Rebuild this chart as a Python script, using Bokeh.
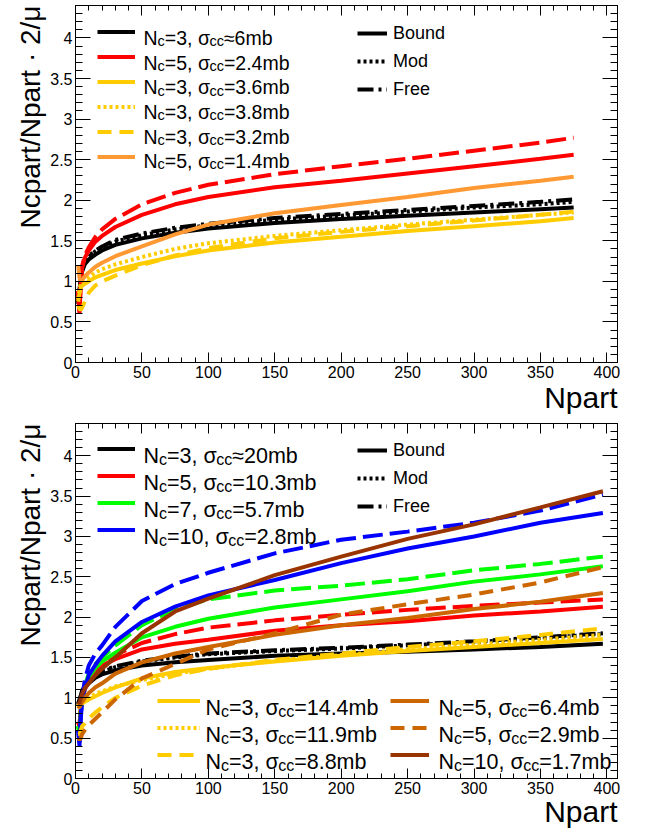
import numpy as np
from bokeh.plotting import figure
from bokeh.layouts import column
from bokeh.models import (Range1d, LinearAxis, FixedTicker, Label, Legend,
                          LegendItem, CustomJSTickFormatter, Title)
from bokeh.embed import file_html
from bokeh.resources import INLINE

FONT = "Liberation Sans"

# ---------------- data ----------------
X_MAJOR = [0, 50, 100, 150, 200, 250, 300, 350, 400]
X_MINOR = list(range(0, 409, 10))
Y_MAJOR = [0, 0.5, 1, 1.5, 2, 2.5, 3, 3.5, 4]
Y_MINOR = [round(0.1 * i, 1) for i in range(45)]
X_TITLE = "Npart"
Y_TITLE = "Ncpart/Npart · 2/μ"
STYLE_NAMES = ["Bound", "Mod", "Free"]

# upper panel
top_npart = [2, 3, 4, 5, 7, 10, 15, 20, 30, 50, 75, 100, 150, 200, 250, 300, 350, 375]
top_nc3_6mb_bound = [0.72, 0.85, 1.02, 1.12, 1.21, 1.27, 1.33, 1.38, 1.45, 1.53, 1.60, 1.65, 1.72, 1.77, 1.81, 1.85, 1.89, 1.91]
top_nc3_6mb_mod = [0.74, 0.88, 1.05, 1.15, 1.24, 1.30, 1.37, 1.42, 1.49, 1.57, 1.64, 1.69, 1.76, 1.81, 1.86, 1.91, 1.95, 1.98]
top_nc3_6mb_free = [0.75, 0.89, 1.06, 1.16, 1.25, 1.31, 1.38, 1.43, 1.51, 1.59, 1.66, 1.71, 1.78, 1.83, 1.88, 1.93, 1.98, 2.01]
top_nc5_24mb_bound = [0.88, 0.60, 0.98, 1.16, 1.29, 1.38, 1.49, 1.56, 1.67, 1.82, 1.95, 2.04, 2.16, 2.24, 2.33, 2.42, 2.51, 2.56]
top_nc5_24mb_free = [0.88, 0.62, 1.00, 1.19, 1.32, 1.42, 1.55, 1.64, 1.77, 1.95, 2.09, 2.19, 2.32, 2.42, 2.51, 2.61, 2.71, 2.77]
top_nc3_36mb = [0.75, 0.85, 0.92, 0.95, 0.97, 1.00, 1.05, 1.08, 1.14, 1.22, 1.31, 1.38, 1.48, 1.55, 1.62, 1.68, 1.74, 1.78]
top_nc3_38mb = [0.78, 0.90, 0.97, 1.00, 1.02, 1.05, 1.11, 1.15, 1.21, 1.30, 1.40, 1.47, 1.56, 1.63, 1.70, 1.76, 1.82, 1.85]
top_nc3_32mb = [0.70, 0.66, 0.65, 0.68, 0.75, 0.86, 0.95, 1.00, 1.07, 1.20, 1.32, 1.41, 1.53, 1.61, 1.68, 1.75, 1.82, 1.86]
top_nc5_14mb = [1.20, 1.05, 1.00, 1.02, 1.06, 1.11, 1.18, 1.23, 1.31, 1.43, 1.58, 1.70, 1.84, 1.94, 2.04, 2.15, 2.24, 2.29]

# lower panel
bot_npart = [2, 3, 4, 5, 7, 10, 15, 20, 30, 50, 75, 100, 150, 200, 250, 300, 350, 397]
bot_nc3_20mb_bound = [0.90, 0.95, 1.00, 1.05, 1.12, 1.18, 1.25, 1.29, 1.34, 1.40, 1.44, 1.47, 1.52, 1.55, 1.57, 1.60, 1.63, 1.67]
bot_nc3_20mb_mod = [0.92, 0.97, 1.02, 1.08, 1.15, 1.21, 1.28, 1.32, 1.38, 1.45, 1.50, 1.54, 1.58, 1.61, 1.65, 1.69, 1.74, 1.79]
bot_nc3_20mb_free = [0.93, 0.98, 1.03, 1.09, 1.16, 1.22, 1.29, 1.33, 1.39, 1.46, 1.51, 1.55, 1.59, 1.62, 1.66, 1.70, 1.75, 1.80]
bot_nc5_103mb_bound = [0.70, 0.65, 0.88, 1.00, 1.10, 1.22, 1.32, 1.40, 1.48, 1.60, 1.67, 1.72, 1.83, 1.90, 1.95, 2.02, 2.07, 2.13]
bot_nc5_103mb_free = [0.70, 0.65, 0.90, 1.02, 1.13, 1.25, 1.36, 1.43, 1.53, 1.68, 1.79, 1.87, 1.96, 2.03, 2.09, 2.14, 2.18, 2.22]
bot_nc7_57mb_bound = [0.65, 0.55, 0.82, 0.97, 1.12, 1.26, 1.37, 1.45, 1.56, 1.75, 1.88, 1.98, 2.12, 2.22, 2.32, 2.44, 2.53, 2.63]
bot_nc7_57mb_free = [0.65, 0.55, 0.85, 1.00, 1.15, 1.30, 1.42, 1.50, 1.65, 1.90, 2.10, 2.22, 2.33, 2.39, 2.47, 2.58, 2.66, 2.75]
bot_nc10_28mb_bound = [0.60, 0.40, 0.75, 0.95, 1.12, 1.28, 1.41, 1.52, 1.70, 1.94, 2.13, 2.27, 2.46, 2.67, 2.85, 3.00, 3.17, 3.29]
bot_nc10_28mb_free = [0.60, 0.45, 0.80, 1.00, 1.22, 1.40, 1.55, 1.65, 1.88, 2.20, 2.41, 2.55, 2.79, 2.96, 3.06, 3.17, 3.32, 3.52]
bot_nc3_144mb = [0.87, 0.90, 0.92, 0.93, 0.95, 0.98, 1.02, 1.06, 1.13, 1.24, 1.32, 1.37, 1.45, 1.52, 1.58, 1.63, 1.68, 1.73]
bot_nc3_119mb = [0.90, 0.93, 0.95, 0.96, 0.98, 1.00, 1.05, 1.08, 1.14, 1.22, 1.30, 1.36, 1.46, 1.53, 1.60, 1.66, 1.72, 1.78]
bot_nc3_88mb = [0.55, 0.55, 0.60, 0.65, 0.68, 0.74, 0.82, 0.88, 1.00, 1.15, 1.28, 1.36, 1.47, 1.55, 1.63, 1.70, 1.78, 1.86]
bot_nc5_64mb = [0.90, 0.88, 0.92, 0.95, 1.00, 1.06, 1.13, 1.18, 1.30, 1.44, 1.55, 1.63, 1.78, 1.90, 1.99, 2.10, 2.19, 2.30]
bot_nc5_29mb = [0.50, 0.48, 0.50, 0.55, 0.60, 0.66, 0.74, 0.82, 0.98, 1.24, 1.42, 1.60, 1.80, 2.03, 2.16, 2.28, 2.43, 2.62]
bot_nc10_17mb = [0.95, 0.93, 1.00, 1.05, 1.12, 1.18, 1.28, 1.36, 1.50, 1.80, 2.07, 2.23, 2.52, 2.75, 2.97, 3.15, 3.36, 3.56]

# ---------------- style ----------------
XMAX, YMAX = 408, 4.4
FW = 542
LW = 4
BOUND = "solid"
MOD = "3 3"
FREE_BLACK = "16 5 3 5"
FREE_COL = "20 7"
DASH = "14 8"
BLACK, RED, YEL, ORA = "#000000", "#ff0000", "#ffcc00", "#ff9933"
GRN, BLU, DORA, BRN = "#00ff00", "#0000ff", "#cc6600", "#993300"

CW = {'N': 722, 'c': 500, '=': 584, ',': 278, ' ': 278, 'σ': 590, '≈': 584,
      'm': 833, 'b': 556, '.': 278}


def tw(s, fs):
    return sum(CW.get(ch, 556) for ch in s) / 1000.0 * fs


def make_fig(fh, btop, bbot, title_standoff):
    p = figure(frame_width=FW, frame_height=fh, x_range=Range1d(0, XMAX),
               y_range=Range1d(0, YMAX), output_backend="svg",
               toolbar_location=None, min_border_left=75, min_border_right=21,
               min_border_top=btop, min_border_bottom=bbot)
    p.xgrid.visible = False
    p.ygrid.visible = False
    blank = CustomJSTickFormatter(code="return ''")
    p.add_layout(LinearAxis(formatter=blank), "above")
    p.add_layout(LinearAxis(formatter=blank), "right")
    xt = FixedTicker(ticks=X_MAJOR, minor_ticks=X_MINOR)
    yt = FixedTicker(ticks=Y_MAJOR, minor_ticks=Y_MINOR)
    for ax in p.xaxis:
        ax.ticker = xt
        ax.major_tick_in, ax.minor_tick_in = 10, 5
    for ax in p.yaxis:
        ax.ticker = yt
        ax.major_tick_in, ax.minor_tick_in = 15, 7
    for ax in p.axis:
        ax.major_tick_out = 0
        ax.minor_tick_out = 0
        ax.axis_line_color = "black"
        ax.major_tick_line_color = "black"
        ax.minor_tick_line_color = "black"
        ax.major_label_text_font = FONT
        ax.major_label_text_font_size = "16px"
        ax.major_label_text_color = "black"
        ax.major_label_standoff = 3
    for ax in (p.above[0], p.right[0]):
        ax.major_label_text_font_size = "1px"
        ax.major_label_standoff = 0
    p.yaxis[0].formatter = CustomJSTickFormatter(code="return String(Math.round(tick*10)/10)")
    p.outline_line_color = "black"
    p.outline_line_width = 1
    p.background_fill_color = "white"
    p.border_fill_color = "white"
    p.add_layout(Title(text=Y_TITLE, align="right", vertical_align="top",
                       text_font=FONT, text_font_size="28px",
                       text_font_style="normal", text_color="black",
                       standoff=0, offset=0), "left")
    p.add_layout(Title(text=X_TITLE, align="right", vertical_align="bottom",
                       text_font=FONT, text_font_size="30px",
                       text_font_style="normal", text_color="black",
                       standoff=title_standoff, offset=0), "below")
    return p


def pd(fh, xpx, ypx):
    return xpx / FW * XMAX, YMAX - ypx / fh * YMAX


def label(p, fh, xpx, ypx, text, fs, **kw):
    x, y = pd(fh, xpx, ypx)
    p.add_layout(Label(x=x, y=y, text=text, text_font=FONT,
                       text_font_size=f"{fs}px", text_color="black", **kw))


def rich(p, fh, xpx, yc, parts, fs, sfs):
    base = yc + 0.34 * fs
    x = xpx
    for txt, sub in parts:
        size = sfs if sub else fs
        y = base + (0.17 * fs if sub else 0)
        label(p, fh, x, y, txt, size, text_baseline="alphabetic", text_align="left")
        x += tw(txt, size)


def samples(p, fh, rends, xleft, yc0, pitch, gw, labels=None, standoff=0):
    n = len(rends)
    h = int(round(pitch))
    top = yc0 - h / 2.0
    bottom = fh - (top + n * h)
    labs = labels if labels else [""] * n
    leg = Legend(items=[LegendItem(label=l, renderers=[r]) for l, r in zip(labs, rends)],
                 location=(xleft, bottom), glyph_width=gw, glyph_height=h,
                 label_height=h, label_width=0, label_standoff=standoff, spacing=0,
                 padding=0, margin=0, border_line_alpha=0,
                 background_fill_alpha=0, label_text_font=FONT,
                 label_text_font_size="18px", label_text_color="black")
    p.add_layout(leg)


def nc_parts(n, rel, s):
    return [("N", False), ("c", True), (f"={n}, σ", False), ("cc", True),
            (f"{rel}{s}mb", False)]


# ---------------- upper panel ----------------
FH1 = 357
p1 = make_fig(FH1, 5, 59, -4)
r_b_b = p1.line(top_npart, top_nc3_6mb_bound, line_color=BLACK, line_width=LW, line_dash=BOUND)
r_b_m = p1.line(top_npart, top_nc3_6mb_mod, line_color=BLACK, line_width=LW, line_dash=MOD)
r_b_f = p1.line(top_npart, top_nc3_6mb_free, line_color=BLACK, line_width=LW, line_dash=FREE_BLACK)
r_r_b = p1.line(top_npart, top_nc5_24mb_bound, line_color=RED, line_width=LW, line_dash=BOUND)
r_r_f = p1.line(top_npart, top_nc5_24mb_free, line_color=RED, line_width=LW, line_dash=FREE_COL)
r_y_b = p1.line(top_npart, top_nc3_36mb, line_color=YEL, line_width=LW, line_dash=BOUND)
r_y_m = p1.line(top_npart, top_nc3_38mb, line_color=YEL, line_width=LW, line_dash=MOD)
r_y_f = p1.line(top_npart, top_nc3_32mb, line_color=YEL, line_width=LW, line_dash=DASH)
r_o = p1.line(top_npart, top_nc5_14mb, line_color=ORA, line_width=LW, line_dash=BOUND)

samples(p1, FH1, [r_b_b, r_r_b, r_y_b, r_y_m, r_y_f, r_o], 22, 26, 24.6, 38)
top_texts = [nc_parts(3, "≈", "6"), nc_parts(5, "=", "2.4"), nc_parts(3, "=", "3.6"),
             nc_parts(3, "=", "3.8"), nc_parts(3, "=", "3.2"), nc_parts(5, "=", "1.4")]
for i, parts in enumerate(top_texts):
    rich(p1, FH1, 68, 26 + i * 24.6, parts, 19.5, 14.5)
samples(p1, FH1, [r_b_b, r_b_m, r_b_f], 282, 28, 28.5, 30, STYLE_NAMES, 6)

# ---------------- lower panel ----------------
FH2 = 355
p2 = make_fig(FH2, 2, 54, -8)
q_b_b = p2.line(bot_npart, bot_nc3_20mb_bound, line_color=BLACK, line_width=LW, line_dash=BOUND)
q_b_m = p2.line(bot_npart, bot_nc3_20mb_mod, line_color=BLACK, line_width=LW, line_dash=MOD)
q_b_f = p2.line(bot_npart, bot_nc3_20mb_free, line_color=BLACK, line_width=LW, line_dash=FREE_BLACK)
q_r_b = p2.line(bot_npart, bot_nc5_103mb_bound, line_color=RED, line_width=LW, line_dash=BOUND)
q_r_f = p2.line(bot_npart, bot_nc5_103mb_free, line_color=RED, line_width=LW, line_dash=FREE_COL)
q_g_b = p2.line(bot_npart, bot_nc7_57mb_bound, line_color=GRN, line_width=LW, line_dash=BOUND)
q_g_f = p2.line(bot_npart, bot_nc7_57mb_free, line_color=GRN, line_width=LW, line_dash=FREE_COL)
q_u_b = p2.line(bot_npart, bot_nc10_28mb_bound, line_color=BLU, line_width=LW, line_dash=BOUND)
q_u_f = p2.line(bot_npart, bot_nc10_28mb_free, line_color=BLU, line_width=LW, line_dash=FREE_COL)
q_y_b = p2.line(bot_npart, bot_nc3_144mb, line_color=YEL, line_width=LW, line_dash=BOUND)
q_y_m = p2.line(bot_npart, bot_nc3_119mb, line_color=YEL, line_width=LW, line_dash=MOD)
q_y_f = p2.line(bot_npart, bot_nc3_88mb, line_color=YEL, line_width=LW, line_dash=DASH)
q_o_b = p2.line(bot_npart, bot_nc5_64mb, line_color=DORA, line_width=LW, line_dash=BOUND)
q_o_f = p2.line(bot_npart, bot_nc5_29mb, line_color=DORA, line_width=LW, line_dash=DASH)
q_br = p2.line(bot_npart, bot_nc10_17mb, line_color=BRN, line_width=LW, line_dash=BOUND)

samples(p2, FH2, [q_b_b, q_r_b, q_g_b, q_u_b], 22, 25, 27, 38)
bot_texts = [nc_parts(3, "≈", "20"), nc_parts(5, "=", "10.3"),
             nc_parts(7, "=", "5.7"), nc_parts(10, "=", "2.8")]
for i, parts in enumerate(bot_texts):
    rich(p2, FH2, 68, 25 + i * 27, parts, 21.5, 16)
samples(p2, FH2, [q_b_b, q_b_m, q_b_f], 282, 27, 28.5, 30, STYLE_NAMES, 6)

samples(p2, FH2, [q_y_b, q_y_m, q_y_f], 82, 277, 27, 43)
for i, parts in enumerate([nc_parts(3, "=", "14.4"), nc_parts(3, "=", "11.9"),
                           nc_parts(3, "=", "8.8")]):
    rich(p2, FH2, 130, 277 + i * 27, parts, 21.5, 16)
samples(p2, FH2, [q_o_b, q_o_f, q_br], 315, 277, 27, 39)
for i, parts in enumerate([nc_parts(5, "=", "6.4"), nc_parts(5, "=", "2.9"),
                           nc_parts(10, "=", "1.7")]):
    rich(p2, FH2, 363, 277 + i * 27, parts, 21.5, 16)

layout = column(p1, p2)
open("out.html", "w").write(file_html(layout, INLINE))
